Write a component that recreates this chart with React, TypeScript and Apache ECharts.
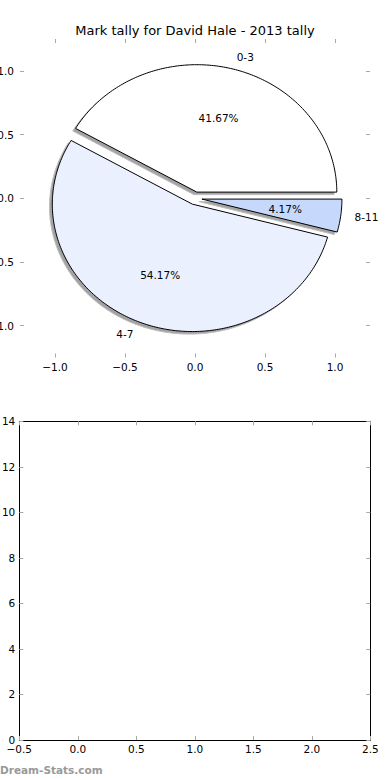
import React, { useEffect, useRef } from "react";
import * as echarts from "echarts";

// ---- data ----
const sliceLabels = ["0-3", "4-7", "8-11"];
const sliceCounts = [10, 13, 1];
const sliceColors = ["#ffffff", "#eaf0fd", "#c6d9fd"];
const sliceExplode = [0.05, 0.05, 0.05];
const pieTicks = [-1.0, -0.5, 0.0, 0.5, 1.0];
const pieRange = [-1.25, 1.25];
const lowerXRange = [-0.5, 2.5];
const lowerYRange = [0, 14];
const titleText = "Mark tally for David Hale - 2013 tally";
const watermark = "Dream-Stats.com";

const FONT = "DejaVu Sans";
const TICK_COLOR = "#a8a8a8";

const fmt = (v: number) => (v < 0 ? "\u2212" : "") + Math.abs(v).toFixed(1);

export default function App() {
  const ref = useRef<HTMLDivElement>(null);
  useEffect(() => {
    if (!ref.current) return;
    const chart = echarts.init(ref.current, undefined, { renderer: "svg" });

    const total = sliceCounts.reduce((a, b) => a + b, 0);
    let acc = 0;
    const slices = sliceCounts.map((c, i) => {
      const t1 = (acc / total) * 360;
      acc += c;
      const t2 = (acc / total) * 360;
      return {
        t1,
        t2,
        label: sliceLabels[i],
        pct: ((c / total) * 100).toFixed(2) + "%",
        color: sliceColors[i],
        explode: sliceExplode[i],
      };
    });

    const wedgePoints = (api: any, i: number, ox: number, oy: number) => {
      const s = slices[i];
      const mid = (((s.t1 + s.t2) / 2) * Math.PI) / 180;
      const cx = s.explode * Math.cos(mid) + ox;
      const cy = s.explode * Math.sin(mid) + oy;
      const pts: number[][] = [api.coord([cx, cy])];
      const n = Math.max(4, Math.ceil((s.t2 - s.t1) / 1));
      for (let k = 0; k <= n; k++) {
        const a = ((s.t1 + ((s.t2 - s.t1) * k) / n) * Math.PI) / 180;
        pts.push(api.coord([cx + Math.cos(a), cy + Math.sin(a)]));
      }
      return { pts, cx, cy, mid };
    };

    const tick = { inside: true, length: 4, lineStyle: { color: TICK_COLOR, width: 1 } };
    const labelStyle = { color: "#000", fontFamily: FONT, fontSize: 10.5 };
    const hiddenLine = { show: false, onZero: false };
    const blackLine = { show: true, onZero: false, lineStyle: { color: "#000", width: 1 } };

    const option: any = {
      animation: false,
      backgroundColor: "#fff",
      grid: [
        { left: 20, top: 39, width: 350, height: 318.5, containLabel: false, outerBoundsMode: "none" },
        { left: 19.3, top: 421.3, width: 351, height: 318.7, containLabel: false, outerBoundsMode: "none" },
      ],
      xAxis: [
        {
          gridIndex: 0, type: "value", position: "bottom", min: pieRange[0], max: pieRange[1],
          axisLine: hiddenLine, splitLine: { show: false },
          axisTick: { ...tick, customValues: pieTicks },
          axisLabel: { ...labelStyle, margin: 4, customValues: pieTicks, formatter: fmt },
        },
        {
          gridIndex: 0, type: "value", position: "top", min: pieRange[0], max: pieRange[1],
          axisLine: hiddenLine, splitLine: { show: false },
          axisTick: { ...tick, customValues: pieTicks },
          axisLabel: { show: false },
        },
        {
          gridIndex: 1, type: "value", position: "bottom", min: lowerXRange[0], max: lowerXRange[1], interval: 0.5,
          axisLine: blackLine, splitLine: { show: false }, axisTick: tick,
          axisLabel: { ...labelStyle, margin: 3, formatter: fmt, showMinLabel: true, showMaxLabel: true },
        },
        {
          gridIndex: 1, type: "value", position: "top", min: lowerXRange[0], max: lowerXRange[1], interval: 0.5,
          axisLine: blackLine, splitLine: { show: false }, axisTick: tick,
          axisLabel: { show: false },
        },
      ],
      yAxis: [
        {
          gridIndex: 0, type: "value", position: "left", min: pieRange[0], max: pieRange[1],
          axisLine: hiddenLine, splitLine: { show: false },
          axisTick: { ...tick, customValues: pieTicks },
          axisLabel: { ...labelStyle, margin: 6, customValues: pieTicks, formatter: fmt },
        },
        {
          gridIndex: 0, type: "value", position: "right", min: pieRange[0], max: pieRange[1],
          axisLine: hiddenLine, splitLine: { show: false },
          axisTick: { ...tick, customValues: pieTicks },
          axisLabel: { show: false },
        },
        {
          gridIndex: 1, type: "value", position: "left", min: lowerYRange[0], max: lowerYRange[1], interval: 2,
          axisLine: blackLine, splitLine: { show: false }, axisTick: tick,
          axisLabel: { ...labelStyle, margin: 4, showMinLabel: true, showMaxLabel: true },
        },
        {
          gridIndex: 1, type: "value", position: "right", min: lowerYRange[0], max: lowerYRange[1], interval: 2,
          axisLine: blackLine, splitLine: { show: false }, axisTick: tick,
          axisLabel: { show: false },
        },
      ],
      series: [
        {
          type: "custom",
          xAxisIndex: 0,
          yAxisIndex: 0,
          z: 1,
          clip: false,
          silent: true,
          data: slices.map((_, i) => [0, 0, i]),
          encode: { x: 0, y: 1 },
          renderItem: (params: any, api: any) => {
            const { pts } = wedgePoints(api, params.dataIndex, -0.02, -0.02);
            return {
              type: "polygon",
              shape: { points: pts },
              style: { fill: "#a3a3a3", stroke: "#bdbdbd", lineWidth: 1 },
            };
          },
        },
        {
          type: "custom",
          xAxisIndex: 0,
          yAxisIndex: 0,
          z: 2,
          clip: false,
          silent: true,
          data: slices.map((_, i) => [0, 0, i]),
          encode: { x: 0, y: 1 },
          renderItem: (params: any, api: any) => {
            const i = params.dataIndex;
            const s = slices[i];
            const { pts, cx, cy, mid } = wedgePoints(api, i, 0, 0);
            const lx = cx + 1.1 * Math.cos(mid);
            const ly = cy + 1.1 * Math.sin(mid);
            const lp = api.coord([lx, ly]);
            const pp = api.coord([cx + 0.6 * Math.cos(mid), cy + 0.6 * Math.sin(mid)]);
            return {
              type: "group",
              children: [
                {
                  type: "polygon",
                  shape: { points: pts },
                  style: { fill: s.color, stroke: "#000", lineWidth: 1 },
                },
                {
                  type: "text",
                  x: lp[0],
                  y: lp[1],
                  style: {
                    text: s.label,
                    fill: "#000",
                    fontFamily: FONT,
                    fontSize: 10.5,
                    align: lx > 0 ? "left" : "right",
                    verticalAlign: "middle",
                  },
                },
                {
                  type: "text",
                  x: pp[0],
                  y: pp[1],
                  style: {
                    text: s.pct,
                    fill: "#000",
                    fontFamily: FONT,
                    fontSize: 10.5,
                    align: "center",
                    verticalAlign: "middle",
                  },
                },
              ],
            };
          },
        },
      ],
      graphic: [
        {
          type: "text",
          x: 195,
          y: 30,
          style: {
            text: titleText,
            fill: "#000",
            fontFamily: FONT,
            fontSize: 13,
            align: "center",
            verticalAlign: "middle",
          },
        },
        {
          type: "text",
          x: 0,
          y: 770,
          style: {
            text: watermark,
            fill: "#999",
            fontFamily: FONT,
            fontSize: 10.5,
            fontWeight: "bold",
            align: "left",
            verticalAlign: "middle",
          },
        },
      ],
    };

    chart.setOption(option);
    return () => chart.dispose();
  }, []);

  return (
    <div
      ref={ref}
      style={{ position: "absolute", left: 0, top: 0, width: 390, height: 780, background: "#fff" }}
    />
  );
}
